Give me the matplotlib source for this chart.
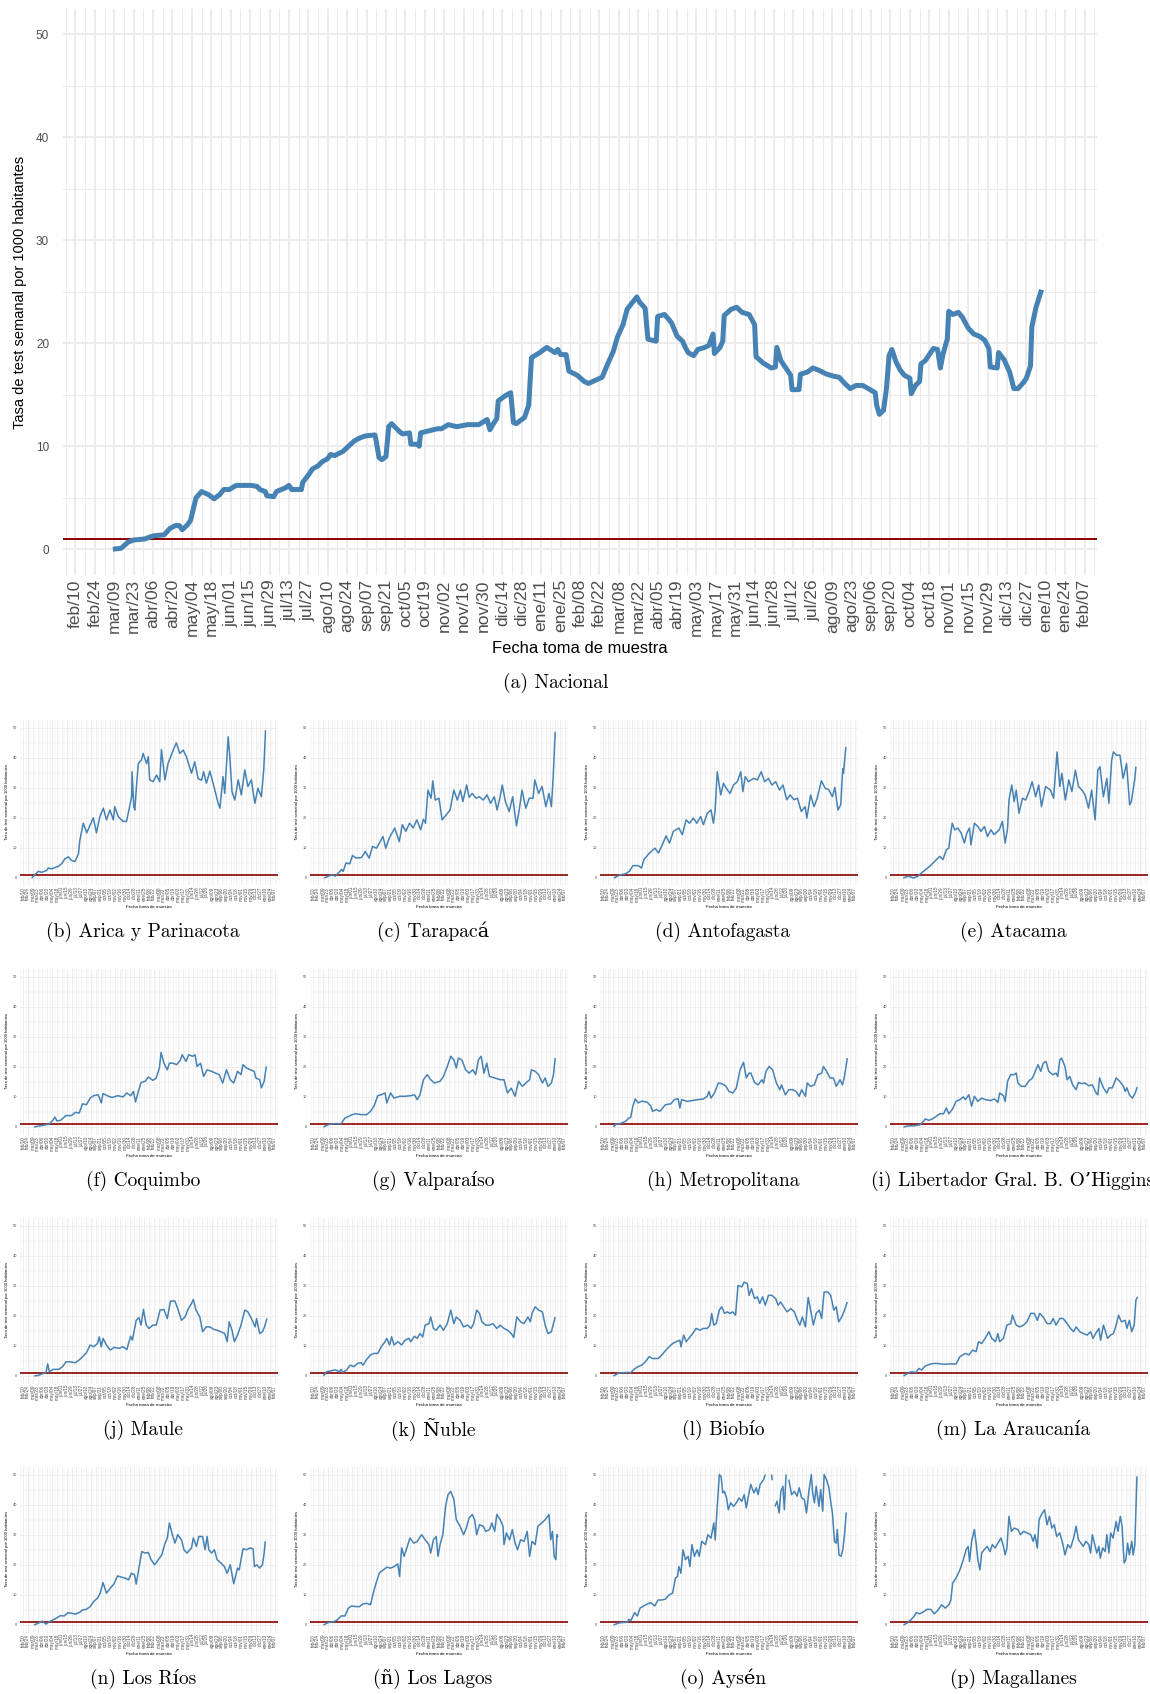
import numpy as np
import pandas as pd
import matplotlib
matplotlib.use('Agg')
import matplotlib.pyplot as plt
import matplotlib.dates as mdates

plt.rcParams['font.family'] = ['Liberation Sans', 'DejaVu Sans']
CAP_FONT = ['cmr10', 'DejaVu Serif']

# dias contados desde 2020-02-10, valor = tasa semanal por 1000 hab.
BASE = '2020-02-10'
meses = ['ene', 'feb', 'mar', 'abr', 'may', 'jun', 'jul', 'ago', 'sep', 'oct', 'nov', 'dic']

nacional = [(27, 0.0), (33, 0.1), (38, 0.7), (42, 0.9), (50, 1.0), (56, 1.3), (64, 1.4), (68, 2.0), (72, 2.3), (75, 2.3),
            (77, 1.9), (81, 2.4), (83, 2.8), (87, 5.0), (91, 5.6), (96, 5.3), (100, 4.9), (104, 5.3), (107, 5.8), (111, 5.8),
            (116, 6.2), (127, 6.2), (131, 6.1), (133, 5.8), (137, 5.6), (138, 5.2), (143, 5.1), (145, 5.6), (152, 6.0), (154, 6.2),
            (156, 5.8), (163, 5.8), (164, 6.5), (168, 7.2), (171, 7.8), (175, 8.1), (178, 8.5), (182, 8.8), (184, 9.2), (187, 9.1),
            (193, 9.5), (197, 10.0), (201, 10.5), (205, 10.8), (209, 11.0), (216, 11.1), (217, 10.5), (219, 8.9), (221, 8.7), (224, 9.0),
            (226, 11.9), (228, 12.2), (231, 11.8), (234, 11.4), (236, 11.2), (241, 11.3), (242, 10.2), (247, 10.2), (248, 10.0), (249, 11.3),
            (255, 11.5), (261, 11.7), (264, 11.7), (269, 12.1), (275, 11.9), (283, 12.1), (291, 12.1), (297, 12.6), (299, 11.6), (302, 12.3),
            (304, 12.7), (305, 14.4), (310, 14.9), (314, 15.2), (316, 12.3), (318, 12.2), (324, 12.8), (327, 14.0), (329, 18.6), (335, 19.1),
            (340, 19.6), (346, 19.1), (348, 19.4), (350, 18.9), (354, 18.9), (356, 17.3), (362, 16.9), (367, 16.3), (370, 16.1), (375, 16.4),
            (380, 16.7), (384, 18.0), (388, 19.2), (391, 20.6), (395, 21.8), (398, 23.3), (402, 24.0), (405, 24.5), (407, 24.0), (411, 23.4),
            (413, 20.4), (419, 20.2), (420, 22.6), (425, 22.8), (430, 22.0), (434, 20.7), (438, 20.2), (440, 19.6), (442, 19.1), (446, 18.8),
            (449, 19.4), (454, 19.6), (457, 19.8), (460, 20.9), (461, 19.0), (465, 19.6), (467, 20.2), (468, 22.7), (473, 23.3), (477, 23.5),
            (481, 23.0), (486, 22.8), (490, 21.8), (491, 18.7), (496, 18.1), (502, 17.6), (505, 17.7), (506, 19.6), (509, 18.3), (514, 17.3),
            (516, 16.9), (517, 15.5), (522, 15.5), (523, 17.0), (528, 17.2), (532, 17.6), (536, 17.4), (542, 17.0), (547, 16.8), (551, 16.7),
            (555, 16.1), (559, 15.6), (563, 15.9), (568, 15.9), (572, 15.6), (577, 15.2), (578, 14.0), (580, 13.1), (583, 13.5), (585, 15.5),
            (587, 18.8), (589, 19.4), (592, 18.2), (595, 17.4), (598, 16.9), (602, 16.6), (603, 15.1), (606, 15.9), (609, 16.3), (610, 18.0),
            (613, 18.3), (617, 19.1), (619, 19.5), (622, 19.4), (624, 17.6), (626, 19.0), (629, 20.4), (630, 23.1), (633, 22.8), (637, 23.0),
            (640, 22.5), (644, 21.5), (648, 20.9), (652, 20.7), (656, 20.3), (659, 19.5), (660, 17.7), (665, 17.6), (666, 19.1), (670, 18.4),
            (674, 17.2), (677, 15.6), (680, 15.6), (684, 16.2), (686, 16.6), (689, 17.8), (690, 21.6), (693, 23.5), (697, 25.2)]

arica = [(25, 0.0), (34, 1.1), (44, 2.2), (54, 1.9), (68, 2.5), (73, 3.3), (82, 3.0), (102, 3.9), (111, 4.7), (121, 6.4),
         (131, 7.0), (140, 5.8), (150, 5.5), (160, 8.0), (164, 12.5), (174, 18.2), (184, 15.0), (203, 20.0), (212, 15.0), (222, 20.4),
         (232, 23.2), (241, 19.3), (251, 22.6), (261, 19.3), (265, 23.7), (275, 20.4), (289, 18.8), (299, 18.8), (304, 21.5), (314, 27.2),
         (315, 35.3), (320, 23.7), (323, 22.6), (328, 30.9), (333, 38.0), (342, 39.2), (347, 41.4), (357, 38.0), (362, 40.3), (366, 32.6),
         (376, 32.0), (386, 34.2), (395, 32.0), (400, 42.7), (410, 32.6), (419, 38.0), (434, 42.5), (443, 44.9), (453, 41.4), (463, 42.5),
         (472, 40.3), (487, 34.8), (496, 38.6), (506, 33.0), (516, 32.5), (522, 35.3), (530, 31.5), (540, 35.5), (554, 29.4), (564, 24.8),
         (569, 23.2), (578, 33.7), (583, 28.1), (593, 46.9), (597, 41.4), (604, 28.7), (612, 25.9), (622, 32.6), (631, 27.6), (641, 35.9),
         (650, 30.4), (660, 32.6), (670, 24.8), (679, 29.8), (689, 27.0), (696, 36.4), (701, 49.1)]

tarapaca = [(32, 0.0), (44, 0.6), (55, 1.0), (64, 0.6), (71, 1.4), (82, 2.8), (87, 2.2), (95, 5.0), (106, 4.7), (114, 7.5),
            (124, 6.6), (140, 6.8), (151, 8.8), (162, 6.6), (172, 10.5), (183, 9.9), (194, 12.1), (202, 13.8), (210, 9.9), (220, 13.2),
            (236, 16.6), (249, 12.1), (258, 17.7), (268, 15.5), (279, 18.2), (289, 16.6), (300, 19.3), (311, 16.0), (319, 19.5), (325, 18.2),
            (332, 29.2), (341, 26.5), (346, 32.3), (353, 25.9), (364, 26.5), (373, 19.3), (385, 21.0), (396, 22.6), (407, 29.2), (417, 25.9),
            (426, 29.2), (433, 25.4), (444, 30.9), (451, 26.8), (460, 28.1), (471, 26.5), (481, 27.0), (492, 25.9), (503, 27.6), (513, 24.8),
            (524, 27.0), (532, 22.6), (540, 26.5), (547, 30.9), (556, 25.4), (567, 22.1), (577, 27.0), (588, 17.3), (596, 22.6), (604, 29.2),
            (615, 23.2), (625, 26.5), (636, 26.5), (641, 32.6), (652, 28.1), (662, 30.4), (673, 23.7), (682, 28.1), (689, 23.7), (694, 33.1),
            (700, 48.6)]

antofagasta = [(31, 0.0), (49, 1.0), (65, 1.4), (76, 2.2), (86, 4.1), (102, 4.1), (111, 3.3), (118, 6.1), (134, 8.3), (150, 9.9),
               (160, 8.3), (171, 11.0), (182, 14.0), (192, 11.6), (203, 15.5), (219, 16.6), (229, 14.4), (240, 19.3), (250, 18.2), (261, 19.9),
               (271, 18.2), (282, 20.4), (290, 17.7), (301, 21.5), (312, 22.6), (319, 18.2), (324, 22.6), (330, 35.3), (340, 27.6), (348, 31.5),
               (356, 29.8), (367, 28.1), (377, 30.9), (388, 32.0), (398, 35.3), (404, 28.7), (411, 33.7), (420, 32.0), (435, 33.1), (446, 32.6),
               (457, 35.3), (467, 32.0), (478, 33.1), (488, 30.9), (499, 32.0), (510, 29.2), (520, 30.9), (531, 26.0), (541, 27.6), (552, 26.0),
               (562, 26.5), (573, 22.1), (584, 23.7), (589, 19.9), (600, 27.6), (610, 23.7), (619, 26.5), (631, 32.3), (642, 29.8), (652, 29.4),
               (663, 27.0), (670, 30.1), (679, 22.6), (687, 24.3), (693, 36.4), (695, 34.8), (702, 43.6)]

atacama = [(29, 0.0), (44, 0.6), (58, 0.0), (72, 0.6), (82, 1.7), (91, 2.5), (106, 3.9), (120, 5.5), (135, 7.2), (144, 6.1),
           (154, 9.4), (161, 9.9), (165, 13.8), (171, 18.2), (178, 16.0), (187, 16.6), (197, 14.9), (206, 11.6), (213, 14.9), (221, 16.6),
           (225, 11.0), (235, 18.2), (245, 17.1), (254, 15.5), (264, 17.1), (273, 13.8), (283, 16.0), (292, 14.4), (307, 16.0), (316, 18.8),
           (324, 11.6), (331, 16.6), (335, 25.9), (343, 30.9), (350, 25.4), (356, 29.2), (364, 21.5), (374, 26.5), (383, 25.9), (393, 28.7),
           (402, 32.0), (412, 27.0), (421, 30.9), (429, 23.7), (441, 30.4), (455, 29.2), (464, 26.5), (474, 41.9), (482, 30.4), (488, 34.8),
           (498, 25.9), (508, 32.6), (517, 28.7), (527, 35.8), (536, 30.4), (546, 29.2), (555, 27.6), (565, 23.2), (574, 29.2), (584, 19.3),
           (592, 35.9), (598, 37.0), (608, 27.0), (618, 33.1), (624, 24.8), (632, 39.2), (637, 41.9), (646, 40.8), (656, 40.8), (665, 33.1),
           (675, 38.0), (684, 24.3), (689, 25.4), (699, 33.1), (702, 37.0)]

coquimbo = [(32, 0.0), (44, 0.3), (60, 0.6), (76, 1.0), (87, 2.4), (92, 3.3), (98, 2.0), (108, 2.2), (124, 3.8), (140, 3.8),
            (151, 4.9), (162, 4.6), (172, 7.7), (183, 7.4), (194, 9.6), (204, 10.4), (217, 10.7), (226, 8.0), (231, 11.1), (247, 10.2),
            (258, 9.8), (273, 10.4), (289, 10.0), (300, 11.3), (311, 10.4), (319, 11.8), (325, 8.3), (332, 11.3), (341, 14.8), (353, 15.2),
            (362, 16.6), (375, 15.5), (385, 16.3), (394, 19.6), (399, 24.8), (407, 21.2), (417, 19.0), (423, 21.2), (433, 21.2), (444, 20.7),
            (455, 22.3), (460, 24.0), (471, 21.8), (479, 24.0), (490, 23.5), (497, 24.0), (503, 20.1), (513, 21.2), (522, 16.8), (532, 19.0),
            (545, 18.5), (556, 17.9), (567, 17.4), (577, 14.6), (588, 19.0), (599, 15.7), (609, 14.6), (620, 18.5), (630, 17.4), (636, 20.7),
            (646, 19.6), (657, 19.0), (668, 18.5), (673, 16.3), (684, 15.7), (689, 13.0), (697, 15.2), (703, 20.1)]

valparaiso = [(30, 0.0), (44, 0.8), (60, 1.1), (81, 1.1), (92, 3.0), (102, 3.5), (113, 4.1), (123, 4.4), (139, 4.1), (155, 4.1),
              (166, 5.2), (176, 6.9), (187, 10.4), (197, 10.7), (208, 11.3), (213, 8.0), (224, 11.3), (234, 9.6), (250, 10.2), (266, 10.2),
              (282, 10.4), (293, 10.7), (301, 9.1), (309, 10.7), (319, 15.7), (330, 17.4), (340, 15.7), (351, 14.6), (367, 15.2), (377, 16.8),
              (388, 20.1), (398, 23.5), (407, 22.3), (414, 19.6), (420, 22.9), (430, 22.3), (441, 19.0), (451, 17.9), (462, 19.0), (470, 17.4),
              (478, 22.3), (486, 23.5), (494, 17.9), (502, 21.2), (510, 16.8), (525, 16.3), (541, 15.7), (552, 15.7), (562, 11.3), (573, 12.9),
              (584, 10.2), (594, 15.2), (605, 13.5), (615, 14.6), (626, 15.7), (631, 19.0), (642, 18.5), (652, 17.4), (663, 14.6), (671, 16.3),
              (679, 13.5), (689, 14.6), (695, 17.4), (700, 22.9)]

metropolitana = [(30, 0.0), (38, 1.1), (49, 1.1), (65, 1.9), (75, 3.0), (80, 3.3), (86, 6.9), (93, 9.3), (101, 8.0), (112, 8.6),
                 (128, 8.2), (138, 6.9), (143, 5.2), (154, 5.8), (164, 5.2), (180, 7.4), (196, 7.7), (206, 9.1), (217, 9.4), (222, 6.3),
                 (227, 9.1), (243, 8.5), (259, 8.8), (275, 9.1), (290, 9.3), (301, 10.2), (306, 11.8), (312, 9.6), (322, 11.3), (333, 14.6),
                 (343, 14.4), (354, 13.7), (364, 11.8), (375, 11.3), (385, 12.9), (396, 19.0), (406, 21.5), (414, 16.3), (422, 17.9), (427, 17.9),
                 (438, 14.8), (448, 14.0), (459, 15.7), (464, 14.6), (471, 18.5), (480, 20.1), (490, 19.0), (501, 14.6), (511, 12.4), (516, 14.0),
                 (527, 10.7), (537, 12.4), (548, 12.4), (558, 11.8), (567, 10.2), (574, 12.4), (585, 10.2), (590, 14.6), (600, 13.5), (611, 14.0),
                 (621, 17.4), (632, 17.9), (637, 20.1), (646, 18.5), (656, 16.3), (666, 16.3), (674, 13.5), (685, 15.7), (692, 14.0), (698, 16.8),
                 (706, 22.9)]

ohiggins = [(30, 0.0), (46, 0.4), (61, 0.4), (77, 0.7), (88, 1.9), (93, 2.7), (103, 2.2), (114, 2.7), (124, 3.5), (135, 4.4),
            (146, 4.4), (154, 6.3), (161, 4.4), (172, 6.0), (182, 8.5), (193, 9.1), (203, 10.0), (209, 9.1), (219, 10.7), (227, 6.9),
            (235, 10.2), (245, 8.5), (256, 9.6), (266, 9.1), (282, 8.8), (293, 9.3), (303, 8.2), (308, 11.3), (319, 10.4), (324, 8.5),
            (331, 15.2), (340, 17.4), (350, 17.4), (356, 17.9), (361, 14.6), (371, 13.5), (382, 13.5), (392, 15.2), (403, 16.3), (413, 19.0),
            (419, 20.7), (427, 18.5), (434, 21.2), (442, 21.8), (450, 18.5), (461, 17.4), (471, 17.9), (476, 16.8), (482, 22.3), (487, 22.9),
            (497, 20.1), (503, 15.7), (511, 16.8), (519, 14.0), (529, 12.4), (536, 14.8), (545, 14.4), (555, 14.6), (566, 13.7), (576, 14.0),
            (587, 11.3), (592, 10.7), (597, 16.3), (608, 13.0), (618, 11.3), (624, 13.0), (634, 13.0), (645, 16.3), (655, 15.2), (666, 13.5),
            (671, 11.8), (676, 13.0), (683, 10.7), (692, 9.6), (700, 11.3), (706, 13.3)]

maule = [(32, 0.0), (44, 0.2), (55, 0.7), (66, 1.1), (71, 4.0), (76, 1.4), (87, 2.2), (103, 2.2), (114, 3.1), (124, 4.7),
         (135, 4.7), (151, 4.4), (162, 5.3), (172, 6.4), (183, 7.7), (194, 10.3), (204, 9.7), (215, 10.8), (220, 13.0), (226, 9.7),
         (231, 12.5), (241, 10.3), (252, 8.6), (263, 9.5), (277, 9.2), (289, 9.7), (300, 8.8), (311, 13.2), (316, 11.9), (327, 18.5),
         (335, 19.4), (341, 16.9), (348, 22.1), (356, 16.9), (364, 15.8), (375, 16.9), (385, 16.9), (396, 21.9), (407, 22.1), (417, 19.1),
         (426, 24.9), (439, 24.9), (447, 22.4), (458, 18.5), (468, 19.6), (476, 21.9), (481, 23.0), (487, 24.1), (492, 25.4), (500, 21.9),
         (511, 19.6), (519, 14.7), (529, 16.3), (540, 16.3), (551, 15.5), (561, 15.2), (572, 14.7), (583, 14.1), (590, 11.4), (596, 18.0),
         (604, 15.2), (611, 11.4), (620, 13.6), (630, 16.9), (641, 21.9), (650, 21.3), (660, 19.1), (671, 16.3), (675, 19.1), (684, 14.1),
         (692, 14.7), (698, 16.3), (705, 19.1)]

nuble = [(30, 0.0), (39, 1.4), (55, 1.8), (65, 2.0), (76, 1.4), (81, 2.2), (86, 1.2), (97, 2.0), (107, 3.6), (118, 3.1),
         (129, 4.2), (139, 4.4), (144, 3.6), (155, 5.5), (166, 7.0), (176, 7.5), (187, 7.5), (197, 9.7), (208, 11.4), (213, 12.5),
         (221, 10.3), (227, 13.0), (234, 10.3), (245, 11.4), (256, 10.3), (266, 11.9), (277, 12.5), (282, 11.4), (293, 13.2), (301, 12.5),
         (309, 14.1), (317, 13.0), (324, 16.9), (335, 17.4), (340, 19.6), (348, 15.8), (356, 15.2), (367, 16.9), (377, 15.2), (388, 17.4),
         (398, 21.9), (407, 17.4), (414, 19.6), (425, 18.5), (435, 16.3), (446, 16.9), (457, 15.8), (464, 17.4), (473, 21.9), (481, 20.8),
         (488, 18.0), (499, 16.9), (510, 16.9), (520, 17.4), (531, 15.8), (541, 16.9), (552, 15.8), (562, 15.2), (573, 14.1), (580, 12.8),
         (589, 19.6), (600, 18.0), (610, 17.4), (621, 19.6), (628, 18.0), (633, 20.8), (642, 23.0), (652, 21.9), (663, 21.3), (671, 16.9),
         (679, 14.1), (689, 14.7), (700, 19.6)]

biobio = [(30, 0.0), (44, 0.9), (59, 1.1), (70, 1.2), (80, 1.1), (89, 2.2), (101, 3.1), (112, 3.6), (122, 4.7), (133, 6.4),
          (143, 5.8), (159, 5.8), (170, 7.0), (180, 8.4), (191, 9.7), (201, 10.8), (212, 11.4), (222, 11.9), (225, 9.7), (233, 13.6),
          (240, 11.4), (248, 12.5), (259, 14.1), (269, 15.8), (280, 15.2), (290, 15.8), (301, 15.8), (309, 16.9), (314, 20.8), (320, 16.9),
          (327, 17.4), (336, 21.9), (343, 23.0), (351, 20.8), (359, 21.3), (367, 20.8), (375, 21.3), (383, 20.2), (390, 30.1), (401, 29.6),
          (408, 31.2), (417, 30.7), (422, 26.8), (429, 29.0), (438, 25.7), (446, 26.3), (453, 24.1), (461, 26.3), (469, 23.5), (478, 26.8),
          (488, 26.8), (499, 25.7), (506, 23.5), (513, 24.6), (522, 23.0), (532, 21.3), (543, 22.4), (553, 21.3), (562, 18.5), (569, 16.9),
          (576, 19.6), (585, 16.3), (593, 26.1), (600, 21.9), (608, 16.9), (616, 20.8), (625, 21.9), (632, 19.1), (639, 27.9), (650, 27.9),
          (658, 26.8), (667, 21.9), (674, 23.0), (681, 18.0), (690, 19.6), (698, 21.9), (706, 24.6)]

araucania = [(30, 0.0), (40, 0.7), (51, 1.4), (67, 1.2), (74, 2.5), (82, 2.0), (93, 3.3), (109, 4.0), (124, 4.2), (146, 3.9),
             (167, 4.0), (182, 4.0), (193, 6.4), (209, 7.5), (219, 7.0), (230, 8.6), (240, 8.1), (247, 11.4), (256, 10.8), (266, 12.5),
             (277, 14.7), (285, 12.5), (296, 11.4), (303, 14.1), (308, 11.4), (319, 12.5), (329, 16.9), (340, 17.4), (345, 20.2), (356, 16.9),
             (366, 16.3), (377, 16.9), (387, 18.0), (398, 20.8), (408, 20.8), (417, 18.5), (424, 20.8), (434, 19.6), (445, 17.4), (455, 17.4),
             (463, 19.1), (471, 16.9), (482, 19.1), (492, 19.1), (503, 17.4), (513, 15.8), (522, 14.7), (529, 16.3), (540, 14.7), (550, 14.1),
             (561, 13.6), (571, 14.7), (578, 12.5), (587, 14.4), (595, 15.8), (600, 11.9), (608, 16.9), (613, 15.2), (620, 12.5), (629, 13.6),
             (637, 14.1), (645, 16.9), (652, 20.2), (660, 18.0), (671, 18.5), (676, 15.8), (683, 18.5), (690, 14.7), (697, 16.9), (702, 25.2),
             (707, 26.3)]

los_rios = [(32, 0.0), (44, 0.6), (55, 1.3), (66, 0.3), (76, 1.1), (87, 1.7), (98, 2.4), (108, 3.1), (119, 3.0), (130, 4.1),
            (140, 3.9), (151, 3.6), (162, 4.1), (172, 5.0), (183, 5.2), (194, 6.1), (204, 7.8), (215, 8.9), (223, 10.6), (231, 14.1),
            (241, 10.6), (252, 12.2), (263, 13.7), (273, 16.3), (284, 15.9), (295, 15.6), (305, 15.0), (313, 17.2), (322, 16.7), (327, 13.6),
            (334, 18.3), (343, 24.4), (353, 23.9), (362, 24.1), (370, 21.7), (380, 20.0), (391, 21.7), (401, 23.3), (409, 26.7), (417, 28.9),
            (423, 33.9), (430, 30.6), (439, 27.2), (447, 30.0), (458, 28.3), (465, 25.0), (474, 23.9), (482, 25.0), (487, 25.6), (492, 28.9),
            (501, 26.1), (508, 29.4), (519, 29.4), (526, 25.0), (532, 29.4), (537, 25.0), (545, 23.9), (553, 25.0), (561, 21.7), (572, 20.6),
            (582, 19.4), (590, 17.2), (599, 20.0), (609, 13.7), (620, 18.9), (625, 18.3), (630, 21.7), (636, 25.3), (646, 25.0), (657, 25.6),
            (665, 25.3), (669, 19.4), (676, 20.0), (684, 18.9), (692, 20.0), (697, 23.9), (700, 27.8)]

los_lagos = [(30, 0.0), (44, 0.8), (60, 1.1), (70, 1.7), (81, 3.0), (92, 3.0), (102, 5.6), (111, 6.3), (123, 6.1), (134, 6.1),
             (144, 7.0), (155, 7.2), (166, 6.7), (174, 10.6), (182, 13.9), (192, 17.4), (203, 18.3), (213, 19.2), (224, 18.9), (234, 19.4),
             (245, 20.3), (250, 16.1), (256, 25.6), (263, 22.8), (271, 25.6), (280, 28.9), (291, 27.2), (301, 27.8), (314, 30.0), (324, 28.3),
             (335, 26.7), (340, 23.9), (348, 28.3), (356, 29.4), (361, 22.8), (367, 26.7), (375, 30.0), (383, 39.4), (390, 43.3), (398, 44.4),
             (407, 41.7), (414, 35.0), (425, 32.8), (435, 30.0), (443, 32.2), (451, 35.6), (460, 36.7), (467, 35.0), (473, 30.0), (481, 33.3),
             (492, 32.8), (499, 31.1), (510, 31.7), (517, 33.9), (525, 31.1), (531, 36.7), (541, 35.0), (549, 32.8), (552, 26.7), (559, 30.6),
             (568, 28.3), (576, 31.7), (584, 27.2), (591, 25.0), (600, 28.3), (610, 27.8), (619, 31.1), (626, 22.8), (633, 27.8), (642, 26.7),
             (650, 32.8), (661, 33.9), (671, 35.0), (682, 36.7), (687, 28.3), (692, 31.1), (697, 22.8), (702, 21.7), (705, 30.0), (708, 29.2)]

# valores sobre 50 quedan fuera de la escala (nan)
aysen = [(30, 0.0), (44, 0.6), (54, 0.8), (70, 0.9), (75, 1.9), (80, 1.4), (91, 4.1), (99, 3.0), (107, 5.6), (117, 6.3),
         (128, 7.0), (138, 7.4), (149, 6.3), (159, 8.3), (170, 8.3), (180, 8.6), (191, 10.0), (201, 10.6), (209, 15.6), (215, 16.1),
         (219, 19.4), (225, 17.2), (231, 25.0), (238, 21.7), (246, 22.8), (251, 19.4), (257, 26.7), (264, 22.8), (272, 25.0), (278, 22.8),
         (285, 27.8), (296, 26.7), (303, 30.0), (312, 28.9), (320, 33.9), (324, 28.3), (330, 39.4), (336, 50.0), (341, 49.4), (346, 43.9),
         (351, 44.4), (357, 42.2), (362, 38.3), (369, 40.6), (377, 39.4), (385, 40.6), (393, 42.2), (401, 41.1), (408, 43.3), (414, 38.9),
         (420, 42.8), (427, 46.7), (436, 43.9), (443, 45.6), (448, 43.3), (454, 46.7), (464, 48.3), (469, 50.0), (475, np.nan), (487, 50.0),
         (489, 48.1), (492, np.nan), (497, 39.4), (503, 41.1), (509, 37.2), (514, 44.4), (520, 46.1), (524, 38.3), (529, 50.0), (532, np.nan),
         (537, 48.3), (545, 43.3), (553, 44.4), (561, 42.8), (567, 45.6), (574, 42.2), (582, 41.7), (588, 37.2), (595, 44.4), (602, 50.0),
         (606, 43.9), (611, 40.6), (616, 46.1), (624, 39.4), (629, 45.0), (635, 37.8), (639, 50.0), (646, 48.3), (653, 45.6), (658, 41.1),
         (663, 37.2), (669, 27.8), (674, 27.2), (677, 31.7), (682, 23.3), (688, 22.8), (693, 25.0), (698, 30.0), (703, 37.4)]

magallanes = [(30, 0.0), (40, 0.6), (51, 1.7), (59, 2.6), (67, 4.1), (77, 3.7), (88, 4.4), (98, 5.2), (109, 5.2), (119, 3.7),
              (130, 5.0), (140, 6.7), (151, 5.6), (161, 6.7), (167, 8.3), (172, 13.9), (182, 15.6), (193, 18.3), (203, 21.7), (211, 25.0),
              (217, 26.1), (221, 21.1), (227, 27.8), (235, 31.7), (240, 27.2), (245, 21.7), (251, 18.3), (256, 23.9), (263, 25.0), (272, 26.1),
              (280, 24.4), (287, 26.7), (295, 25.6), (303, 27.2), (312, 28.9), (319, 26.1), (324, 23.3), (329, 25.6), (335, 36.1), (342, 31.1),
              (350, 32.2), (361, 31.7), (368, 30.0), (377, 31.1), (387, 30.6), (398, 30.0), (405, 27.8), (410, 30.0), (417, 25.6), (422, 35.0),
              (429, 36.7), (438, 38.3), (445, 33.3), (452, 36.1), (459, 32.2), (466, 33.3), (473, 29.4), (482, 30.6), (490, 27.2), (497, 23.3),
              (505, 26.7), (513, 25.6), (522, 28.9), (529, 32.8), (536, 28.3), (543, 27.2), (550, 26.1), (557, 27.8), (566, 26.7), (571, 23.9),
              (576, 30.0), (582, 27.2), (589, 23.9), (595, 26.1), (599, 22.2), (606, 25.6), (613, 24.4), (618, 30.0), (624, 23.9), (629, 30.6),
              (636, 28.9), (645, 34.4), (650, 31.1), (657, 36.1), (662, 32.8), (668, 20.6), (673, 21.7), (678, 27.2), (683, 23.3), (690, 27.8),
              (694, 23.3), (699, 26.7), (705, 49.4)]

regiones = [
    ('(b) Arica y Parinacota', arica), ('(c) Tarapacá', tarapaca),
    ('(d) Antofagasta', antofagasta), ('(e) Atacama', atacama),
    ('(f) Coquimbo', coquimbo), ('(g) Valparaíso', valparaiso),
    ('(h) Metropolitana', metropolitana), ('(i) Libertador Gral. B. O’Higgins', ohiggins),
    ('(j) Maule', maule), ('(k) Ñuble', nuble),
    ('(l) Biobío', biobio), ('(m) La Araucanía', araucania),
    ('(n) Los Ríos', los_rios), ('(ñ) Los Lagos', los_lagos),
    ('(o) Aysén', aysen), ('(p) Magallanes', magallanes),
]

x0 = mdates.date2num(pd.Timestamp(BASE))
major = pd.date_range('2020-02-10', '2022-02-07', freq='14D')
minor = pd.date_range('2020-02-03', '2022-02-14', freq='14D')
tick_lbl = ['%s/%02d' % (meses[d.month - 1], d.day) for d in major]

W, H = 1150, 1694
fig = plt.figure(figsize=(W / 100, H / 100), dpi=100)


def fx(px):
    return px / W


def fy(py):
    return 1 - py / H


def draw(ax, serie, small):
    days = np.array([p[0] for p in serie], float)
    vals = np.array([p[1] for p in serie], float)
    ax.plot(x0 + days, vals, color='#4682B4', lw=1.1 if small else 3.6,
            solid_capstyle='butt', zorder=3)
    ax.axhline(1, color='#8B0000', lw=1.2 if small else 1.4, zorder=2)
    ax.set_xlim(x0 - 9, x0 + 737)
    ax.set_ylim(-2.5, 52.5)
    ax.set_xticks(mdates.date2num(major.to_pydatetime()))
    ax.set_xticks(mdates.date2num(minor.to_pydatetime()), minor=True)
    ax.set_xticklabels(tick_lbl, rotation=90)
    ax.set_yticks(range(0, 51, 10))
    ax.set_yticks(range(5, 50, 10), minor=True)
    ax.grid(which='major', color='#EBEBEB', lw=0.55 if small else 1.3)
    ax.grid(which='minor', color='#EBEBEB', lw=0.3 if small else 0.75)
    ax.set_axisbelow(True)
    for s in ax.spines.values():
        s.set_visible(False)
    ax.tick_params(which='both', length=0)
    if small:
        ax.tick_params(axis='x', labelsize=3.3, pad=1, labelcolor='#4D4D4D')
        ax.tick_params(axis='y', labelsize=2.8, pad=2, labelcolor='#4D4D4D')
    else:
        ax.tick_params(axis='x', labelsize=12.5, pad=3, labelcolor='#4D4D4D')
        ax.tick_params(axis='y', labelsize=8.5, pad=10, labelcolor='#4D4D4D')


ylab = 'Tasa de test semanal por 1000 habitantes'
xlab = 'Fecha toma de muestra'

# panel nacional
ax = fig.add_axes([fx(63), fy(575), fx(1097) - fx(63), (575 - 8.6) / H])
draw(ax, nacional, False)
fig.text(fx(20), fy(292), ylab, rotation=90, ha='center', va='center', fontsize=10.5)
fig.text(fx(580), fy(648), xlab, ha='center', va='center', fontsize=11.9)
fig.text(fx(556), fy(683), '(a) Nacional', ha='center', va='center',
         fontsize=14, family=CAP_FONT)

# paneles regionales
for i, (cap, serie) in enumerate(regiones):
    r, c = divmod(i, 4)
    left = 20 + 290 * c
    top = 720 + 249 * r
    ax = fig.add_axes([fx(left), fy(top + 165.5), 258 / W, 165.5 / H])
    draw(ax, serie, True)
    fig.text(fx(left - 13), fy(top + 82), ylab, rotation=90, ha='center',
             va='center', fontsize=3)
    fig.text(fx(left + 129), fy(top + 187), xlab, ha='center', va='center',
             fontsize=3.2)
    fig.text(fx(left + 123), fy(top + 212), cap, ha='center', va='center',
             fontsize=14, family=CAP_FONT)

fig.savefig('out.png', dpi=100)
